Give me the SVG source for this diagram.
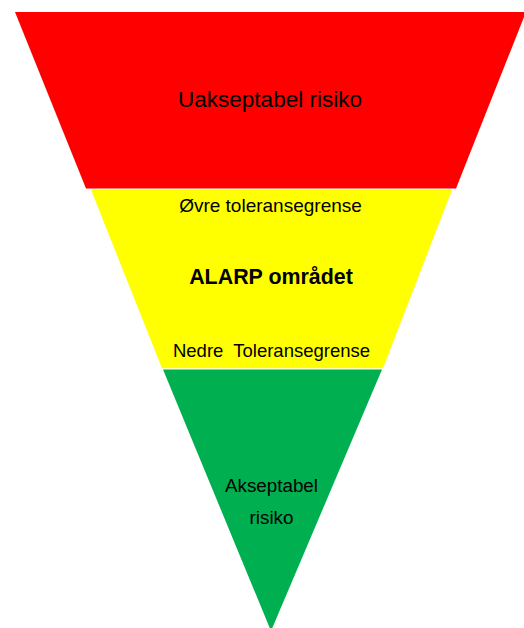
<svg xmlns="http://www.w3.org/2000/svg" width="524" height="628" viewBox="0 0 524 628">
  <style>
    .lbl { font-family: "Liberation Sans", Arial, sans-serif; fill: #000; text-anchor: middle; white-space: pre; }
    .red { fill: #FF0000; }
    .yellow { fill: #FFFF00; }
    .green { fill: #00B050; }
  </style>
  <rect x="0" y="0" width="524" height="628" fill="#FFFFFF"/>
  <g id="unacceptable">
    <polygon class="red" points="15,12 526,12 456,188.5 86,188.5"/>
    <text class="lbl" x="270" y="106.5" font-size="22.5">Uakseptabel risiko</text>
  </g>
  <g id="alarp">
    <polygon class="yellow" points="91,189.8 452,189.8 383,368.3 162,368.3"/>
    <text class="lbl" x="270.5" y="211.5" font-size="19">Øvre toleransegrense</text>
    <text class="lbl" x="271" y="284" font-size="21.4" font-weight="bold">ALARP området</text>
    <text class="lbl" x="271.5" y="357" font-size="18.5">Nedre  Toleransegrense</text>
  </g>
  <g id="acceptable">
    <polygon class="green" points="163,369.6 382,369.6 271,631"/>
    <text class="lbl" x="271.5" y="492" font-size="18.8">Akseptabel</text>
    <text class="lbl" x="271.5" y="524" font-size="18.8">risiko</text>
  </g>
  <g id="connectors"/>
</svg>
